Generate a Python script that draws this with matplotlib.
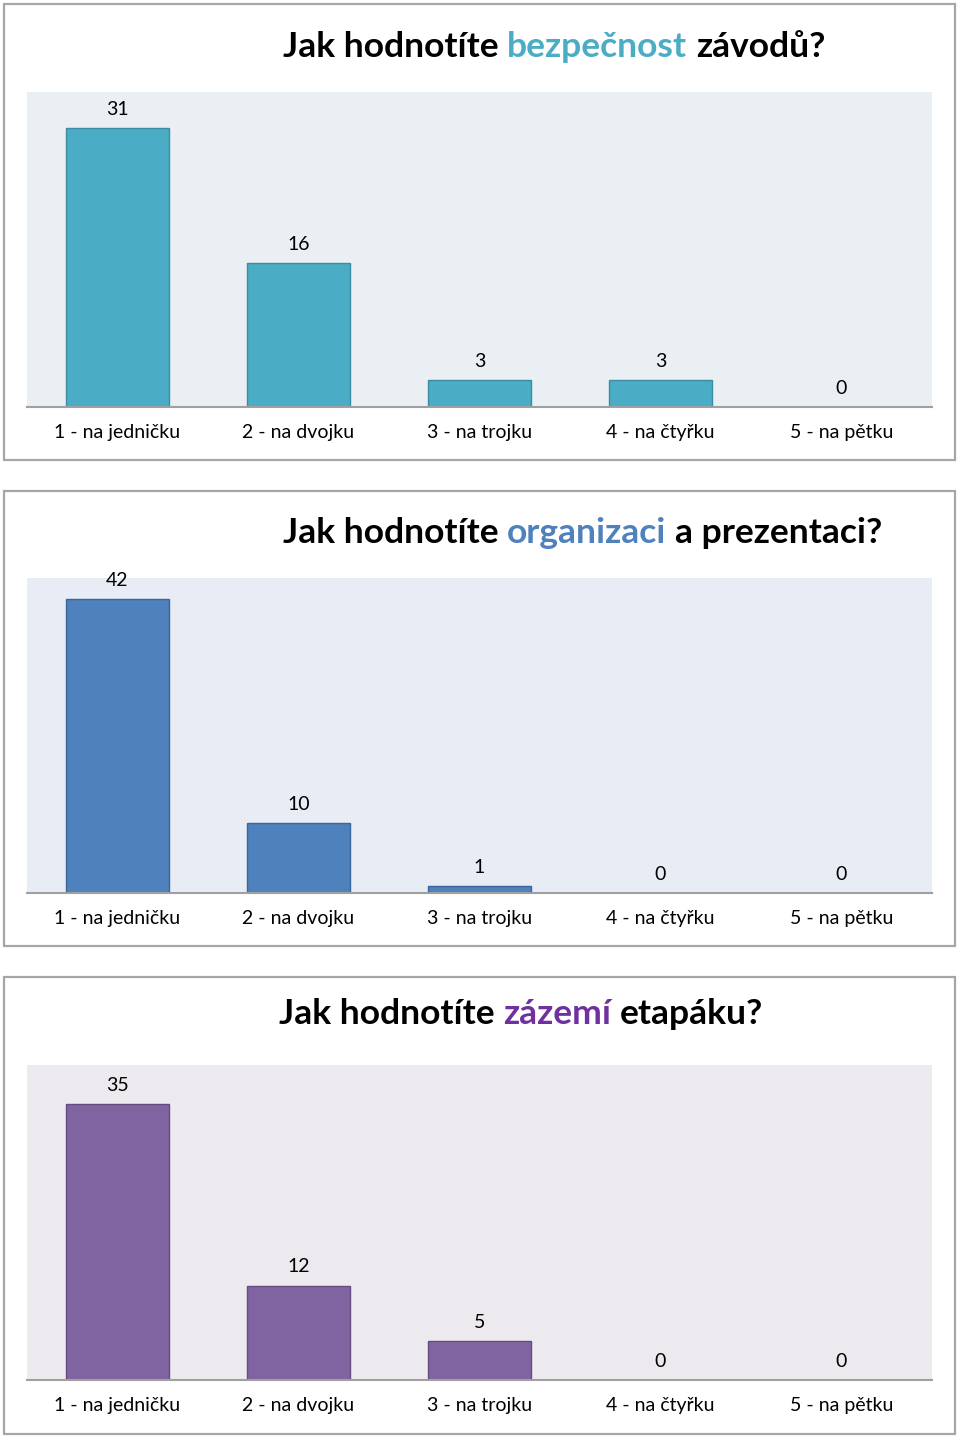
import matplotlib
matplotlib.use("Agg")
import matplotlib.pyplot as plt
from matplotlib.patches import Rectangle

plt.rcParams['font.family'] = ['Lato', 'DejaVu Sans']

kategorie = ['1 - na jedničku', '2 - na dvojku', '3 - na trojku', '4 - na čtyřku', '5 - na pětku']
bezpecnost = [31, 16, 3, 3, 0]
organizace = [42, 10, 1, 0, 0]
zazemi = [35, 12, 5, 0, 0]

# (prefix, colored word, suffix)
tituly = [
    ('Jak hodnotíte', 'bezpečnost', 'závodů?'),
    ('Jak hodnotíte', 'organizaci', 'a prezentaci?'),
    ('Jak hodnotíte', 'zázemí', 'etapáku?'),
]

W, H = 960, 1436
fig = plt.figure(figsize=(W / 100, H / 100), dpi=100)
renderer = fig.canvas.get_renderer()

# layout in pixels: border (top, bottom), axes (top, bottom), title baseline, title x, ymax
panely = [
    dict(data=bezpecnost, border=(4, 460), ax=(92, 407), tb=57, tx=283, ymax=35,
         bar='#4BACC6', edge='#3C8CA2', bg='#E9EFF3', word='#4BACC6'),
    dict(data=organizace, border=(491, 946), ax=(578, 893), tb=543, tx=283, ymax=45,
         bar='#4F81BD', edge='#3C659A', bg='#E8ECF4', word='#4F81BD'),
    dict(data=zazemi, border=(977, 1434), ax=(1065, 1380), tb=1024, tx=279, ymax=40,
         bar='#8064A2', edge='#634C80', bg='#ECE9EF', word='#7030A0'),
]


def text_width(s, **kw):
    t = fig.text(0, 0, s, **kw)
    w = t.get_window_extent(renderer).width
    t.remove()
    return w


for p, (pre, word, suf) in zip(panely, tituly):
    bt, bb = p['border']
    fig.patches.append(Rectangle((4 / W, 1 - bb / H), 951 / W, (bb - bt) / H,
                                 transform=fig.transFigure, fill=False,
                                 edgecolor='#A6A6A6', linewidth=1.6))

    at, ab = p['ax']
    ax = fig.add_axes([27 / W, 1 - ab / H, 905 / W, (ab - at) / H])
    ax.set_facecolor(p['bg'])
    x = range(len(kategorie))
    ax.bar(x, p['data'], width=0.57, color=p['bar'], edgecolor=p['edge'], linewidth=1.0)
    for xi, v in zip(x, p['data']):
        ax.annotate(str(v), (xi, v), xytext=(0, 10), textcoords='offset pixels',
                    ha='center', va='bottom', fontsize=14, color='black')
    ax.set_xlim(-0.5, len(kategorie) - 0.5)
    ax.set_ylim(0, p['ymax'])
    ax.set_xticks(list(x))
    ax.set_xticklabels(kategorie, fontsize=14)
    ax.tick_params(axis='x', length=0, pad=12)
    ax.set_yticks([])
    for s in ['top', 'left', 'right']:
        ax.spines[s].set_visible(False)
    ax.spines['bottom'].set_color('#A0A0A0')
    ax.spines['bottom'].set_linewidth(1.5)

    # title built from pieces
    kw = dict(fontsize=25.5, fontweight='bold')
    space = text_width('a a', **kw) - text_width('aa', **kw)
    xpos = p['tx']
    yb = 1 - p['tb'] / H
    for piece, col in [(pre, 'black'), (word, p['word']), (suf, 'black')]:
        fig.text(xpos / W, yb, piece, color=col, va='baseline', ha='left', **kw)
        xpos += text_width(piece, **kw) + space

fig.savefig('out.png', dpi=100)
